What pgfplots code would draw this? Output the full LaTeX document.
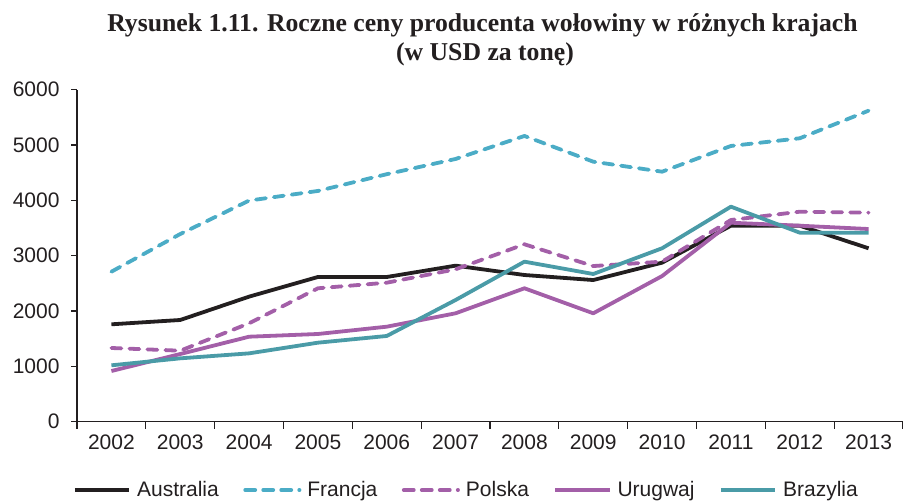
\documentclass[border=0pt]{standalone}
\usepackage{pgfplots}
\pgfplotsset{compat=1.18}
\usepackage{fontspec}
\setmainfont{Liberation Sans}
\newfontfamily\titlefont{Liberation Serif}
\definecolor{aus}{HTML}{231F20}
\definecolor{fra}{HTML}{4BACC6}
\definecolor{pur}{HTML}{A35FA8}
\definecolor{bra}{HTML}{4A9BA7}
\begin{document}
\begin{tikzpicture}[x=1pt,y=1pt]
\useasboundingbox (0,0) rectangle (903,502);
\node[anchor=base,font=\titlefont\bfseries\fontsize{25.7}{30}\selectfont,text=aus] at (482.5,470.3) {Rysunek 1.11. Roczne ceny producenta wołowiny w różnych krajach};
\node[anchor=base,font=\titlefont\bfseries\fontsize{25.7}{30}\selectfont,text=aus] at (485,441) {(w USD za tonę)};
\begin{axis}[
  at={(77pt,80.3pt)}, anchor=south west,
  scale only axis, width=826pt, height=332pt,
  xmin=-0.5, xmax=11.5, ymin=0, ymax=6000,
  clip=false,
  axis x line*=bottom, axis y line*=left,
  axis line style={-, line width=1.3pt, color=aus},
  every tick/.style={line width=1.3pt, color=aus},
  tick align=outside,
  major tick length=6pt, minor tick length=7pt,
  xtick={0,...,11},
  xticklabels={2002,2003,2004,2005,2006,2007,2008,2009,2010,2011,2012,2013},
  major x tick style={draw=none},
  minor xtick={-0.5,0.5,...,11.5},
  ytick={0,1000,...,6000},
  scaled y ticks=false,
  /pgf/number format/assume math mode=true,
  yticklabel style={/pgf/number format/set thousands separator={}, xshift=-8pt},
  xticklabel style={yshift=-4pt},
  tick label style={font=\fontsize{21}{24}\selectfont, text=aus},
  legend style={at={(-0.005,-0.206)}, anchor=west, draw=none, fill=none, inner sep=0pt,
    legend columns=-1, font=\fontsize{21}{24}\selectfont, text=aus,
    /tikz/every even column/.append style={column sep=22.5pt}},
  legend image code/.code={\draw[#1] (1.75pt,0pt) -- (56pt,0pt); \path (60pt,0pt);},
  every axis plot/.append style={line width=3.8pt, line join=round},
]
\addplot[aus, no markers] coordinates {(0,1760)(1,1838)(2,2260)(3,2615)(4,2615)(5,2820)(6,2651)(7,2560)(8,2874)(9,3542)(10,3542)(11,3134)};
\addlegendentry{Australia}
\addplot[fra, no markers, line cap=round, dash pattern=on 10pt off 8pt] coordinates {(0,2711)(1,3392)(2,3996)(3,4170)(4,4473)(5,4748)(6,5164)(7,4699)(8,4518)(9,4983)(10,5122)(11,5621)};
\addlegendentry{Francja}
\addplot[pur, no markers, line cap=round, dash pattern=on 10pt off 8pt] coordinates {(0,1332)(1,1283)(2,1778)(3,2411)(4,2512)(5,2754)(6,3206)(7,2813)(8,2892)(9,3645)(10,3795)(11,3777)};
\addlegendentry{Polska}
\addplot[pur, no markers] coordinates {(0,916)(1,1223)(2,1536)(3,1585)(4,1717)(5,1959)(6,2411)(7,1959)(8,2632)(9,3596)(10,3542)(11,3482)};
\addlegendentry{Urugwaj}
\addplot[bra, no markers] coordinates {(0,1019)(1,1145)(2,1235)(3,1428)(4,1549)(5,2199)(6,2892)(7,2669)(8,3134)(9,3886)(10,3416)(11,3416)};
\addlegendentry{Brazylia}
\end{axis}
\end{tikzpicture}
\end{document}
